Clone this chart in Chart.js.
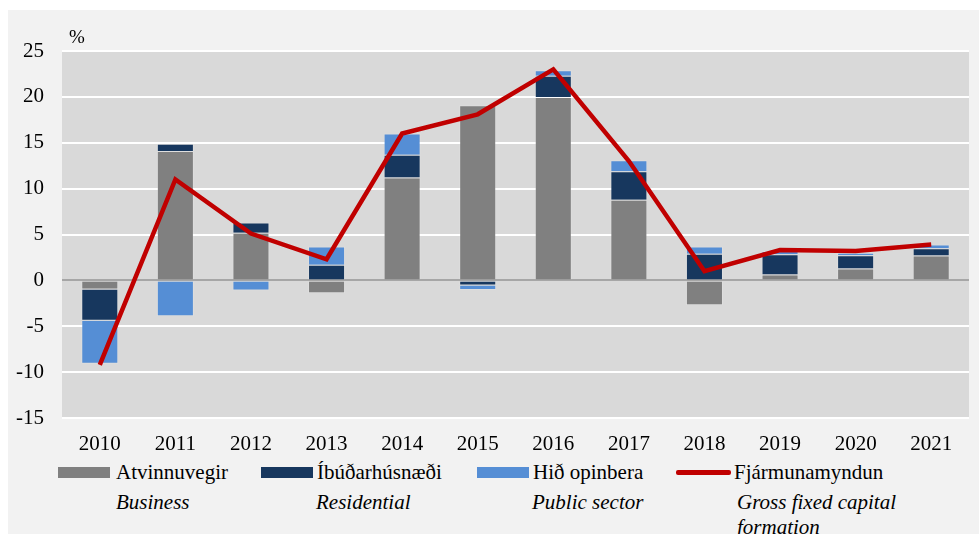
<!DOCTYPE html>
<html>
<head>
<meta charset="utf-8">
<script src="https://cdn.jsdelivr.net/npm/chart.js@4.4.1/dist/chart.umd.min.js"></script>
<style>
  body { margin: 0; background: #fff; }
  #wrap { position: relative; width: 979px; height: 534px; font-family: "Liberation Serif", "Times New Roman", serif; color: #000; }
  #panel { position: absolute; left: 8px; top: 10px; width: 971px; height: 524px; background: #f2f2f2; }
  #cv { position: absolute; left: 0; top: 0; }
  .t { position: absolute; font-size: 21px; line-height: 24px; white-space: nowrap; }
  .i { font-style: italic; }
  .sw { position: absolute; height: 11px; }
</style>
</head>
<body>
<div id="wrap">
  <div id="panel"></div>
  <canvas id="cv" width="979" height="450"></canvas>
  <div class="t" style="left:69px; top:25px; font-size:19px;">%</div>

  <div class="sw" style="left:58px; top:467px; width:52px; background:#808080;"></div>
  <div class="t" style="left:116px; top:460px;">Atvinnuvegir</div>
  <div class="t i" style="left:116px; top:490px;">Business</div>

  <div class="sw" style="left:261px; top:467px; width:52px; background:#17375e;"></div>
  <div class="t" style="left:317px; top:460px;">Íbúðarhúsnæði</div>
  <div class="t i" style="left:316px; top:490px;">Residential</div>

  <div class="sw" style="left:477px; top:467px; width:52px; background:#558ed5;"></div>
  <div class="t" style="left:533px; top:460px;">Hið opinbera</div>
  <div class="t i" style="left:532px; top:490px;">Public sector</div>

  <div class="sw" style="left:676px; top:470px; width:55px; height:5px; border-radius:2px; background:#c00000;"></div>
  <div class="t" style="left:734px; top:460px;">Fjármunamyndun</div>
  <div class="t i" style="left:737px; top:490px;">Gross fixed capital</div>
  <div class="t i" style="left:737px; top:515px;">formation</div>
</div>
<script>
var years = ['2010','2011','2012','2013','2014','2015','2016','2017','2018','2019','2020','2021'];
var business    = [-1.0, 14.1, 5.2, -1.4, 11.2, 19.1, 20.0, 8.8, -2.7, 0.65, 1.3, 2.7];
var residential = [-3.4, 0.8, 1.1, 1.7, 2.5, -0.55, 2.3, 3.1, 2.9, 2.2, 1.45, 0.8];
var publicSec   = [-4.7, -3.9, -1.1, 2.0, 2.3, -0.5, 0.6, 1.2, 0.8, 0.35, 0.25, 0.4];
var gfcf        = [-9.2, 11.0, 5.1, 2.3, 16.0, 18.1, 23.0, 13.0, 1.0, 3.3, 3.2, 3.9];

var plotBg = {
    id: 'plotBg',
    beforeDraw: function(chart){
        var a = chart.chartArea;
        var c = chart.ctx;
        c.save();
        c.fillStyle = '#d9d9d9';
        c.fillRect(a.left, a.top, a.right - a.left, a.bottom - a.top);
        c.restore();
    }
};

var ctx = document.getElementById('cv').getContext('2d');
var myChart = new Chart(ctx, {
    type: 'bar',
    data: {
        labels: years,
        datasets: [
        {
            type: 'line',
            label: 'Fjármunamyndun',
            data: gfcf,
            borderColor: '#c00000',
            borderWidth: 4.5,
            pointRadius: 0,
            tension: 0,
            order: 0
        },
        {
            label: 'Atvinnuvegir',
            data: business,
            backgroundColor: '#808080',
            borderColor: 'rgba(255,255,255,0.15)',
            borderWidth: 1,
            order: 1
        },
        {
            label: 'Íbúðarhúsnæði',
            data: residential,
            backgroundColor: '#17375e',
            borderColor: 'rgba(255,255,255,0.15)',
            borderWidth: 1,
            order: 1
        },
        {
            label: 'Hið opinbera',
            data: publicSec,
            backgroundColor: '#558ed5',
            borderColor: 'rgba(255,255,255,0.15)',
            borderWidth: 1,
            order: 1
        }
        ]
    },
    options: {
        responsive: false,
        animation: false,
        categoryPercentage: 1,
        barPercentage: 0.49,
        layout: { padding: { left: 0, right: 10, top: 51, bottom: 0 } },
        plugins: {
            legend: { display: false },
            tooltip: { enabled: false }
        },
        scales: {
            x: {
                stacked: true,
                grid: { display: false },
                border: { display: false },
                ticks: { color: '#000', font: { family: 'Liberation Serif', size: 21 }, padding: 6 },
                afterFit: function(s){ s.height = 32; }
            },
            y: {
                stacked: true,
                min: -15,
                max: 25,
                border: { display: false },
                grid: {
                    drawTicks: false,
                    lineWidth: 2,
                    color: function(c){ return c.tick && c.tick.value === 0 ? '#a6a6a6' : '#ffffff'; }
                },
                ticks: { stepSize: 5, color: '#000', font: { family: 'Liberation Serif', size: 21 }, padding: 18 },
                afterFit: function(s){ s.width = 62; }
            }
        }
    },
    plugins: [plotBg]
});
</script>
</body>
</html>
